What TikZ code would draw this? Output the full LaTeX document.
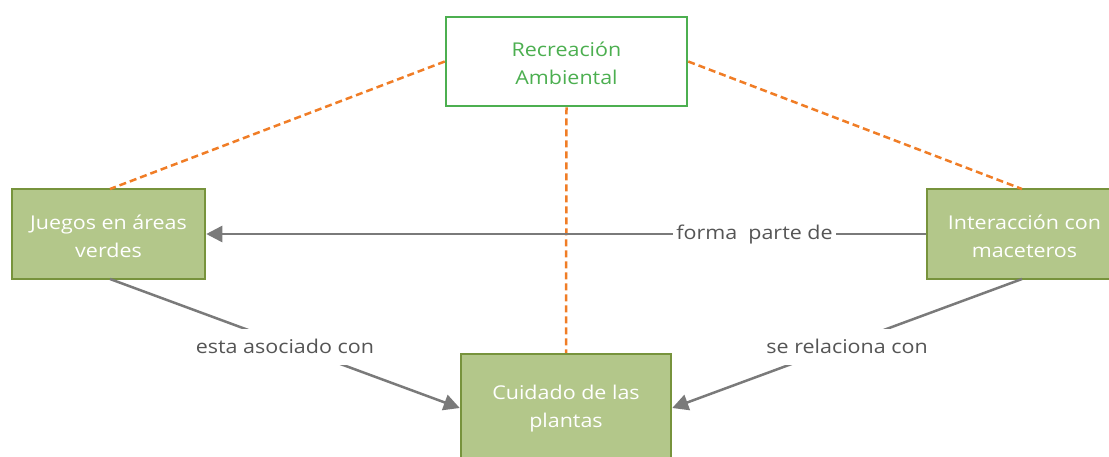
\documentclass[tikz,border=0pt]{standalone}
\usepackage{fontspec}
\setmainfont{Open Sans}[FakeStretch=1.13]
\usetikzlibrary{arrows.meta}
\definecolor{boxfill}{HTML}{B3C78A}
\definecolor{boxdraw}{HTML}{77933C}
\definecolor{topgreen}{HTML}{4CAF50}
\definecolor{linkgray}{HTML}{7A7A7A}
\definecolor{labelgray}{HTML}{555555}
\definecolor{dashorange}{HTML}{F07D26}
\tikzset{
  concept/.style={draw=boxdraw, fill=boxfill, line width=2.5pt,
    minimum width=193pt, minimum height=90pt, inner sep=0pt},
  topbox/.style={draw=topgreen, fill=white, line width=2.5pt,
    minimum width=241pt, minimum height=89pt, inner sep=0pt},
  ctext/.style={text=white, align=center, inner sep=0pt,
    font=\fontsize{19}{28}\selectfont},
  ttext/.style={ctext, text=topgreen},
  link/.style={draw=linkgray, line width=2.5pt, -{Triangle[length=16pt,width=16pt]}},
  dashlink/.style={draw=dashorange, line width=2.5pt, dash pattern=on 7pt off 4pt},
  lbl/.style={fill=white, text=labelgray, inner sep=3pt, font=\fontsize{19}{22}\selectfont}
}
\begin{document}
\begin{tikzpicture}[x=1pt,y=-1pt]
\useasboundingbox (0,0) rectangle (1109,456);
\clip (0,0) rectangle (1109,456);
\node[topbox] (rec) at (566.5,61.5) {};
\node[ttext] (rect) at ([yshift=-1.5pt]rec.center) {Recreación\\Ambiental};
\node[concept] (jue) at (108.5,234) {};
\node[ctext] (juet) at ([yshift=-2pt]jue.center) {Juegos en áreas\\verdes};
\node[concept, minimum width=195pt] (int) at (1024.5,234) {};
\node[ctext] (intt) at ([yshift=-2pt]int.center) {Interacción con\\maceteros};
\node[concept, minimum width=210pt, minimum height=108pt] (cui) at (566,408) {};
\node[ctext] (cuit) at ([yshift=-1pt]cui.center) {Cuidado de las\\plantas};
\coordinate (jt) at (110,189);
\coordinate (it) at (1022,189);
\coordinate (jb) at (110,279);
\coordinate (ib) at (1022,279);
\draw[dashlink] (rec.west) -- (jt);
\draw[dashlink] (rec.east) -- (it);
\draw[dashlink] (rec.south) -- (cui.north);
\draw[link] (int.west) -- node[lbl, pos=0.238, yshift=-1pt] (l1) {forma\ \ parte de} (jue.east);
\draw[link] (jb) -- node[lbl, minimum width=190pt, minimum height=36pt, yshift=-3pt] (l2) {esta asociado con} (cui.west);
\draw[link] (ib) -- node[lbl, minimum width=170pt, minimum height=36pt, yshift=-3pt] (l3) {se relaciona con} (cui.east);
\end{tikzpicture}
\end{document}
